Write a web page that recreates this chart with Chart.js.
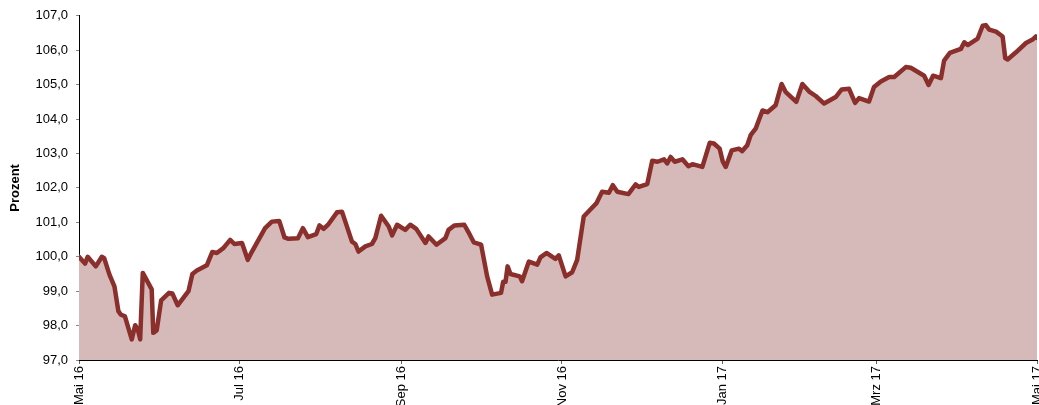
<!DOCTYPE html>
<html>
<head>
<meta charset="utf-8">
<script src="https://cdn.jsdelivr.net/npm/chart.js@4"></script>
<style>
  html, body { margin: 0; padding: 0; background: #fff; }
  #wrap { width: 1039px; height: 405px; position: relative; }
</style>
</head>
<body>
<div id="wrap"><canvas id="indexChart"></canvas></div>
<script>
// Tage seit 1. Mai 2016 (geschaetzt aus der Vorlage)
const dayOffsets = [
  0, 2.3, 3.3, 6.4, 8.7, 9.6, 11.6, 13.5, 15.0, 15.9,
  17.5, 20.1, 21.4, 22.4, 23.3, 24.3, 27.7, 28.3, 29.6, 31.3,
  34.3, 35.6, 37.6, 41.7, 43.2, 44.9, 48.7, 50.8, 52.5, 55.0,
  57.6, 59.2, 62.1, 64.3, 65.9, 70.9, 73.5, 76.3, 78.3, 79.8,
  83.4, 85.3, 87.2,
  90.4, 91.6, 93.2, 95.1, 98.3, 100.2, 104.0, 105.3, 106.5, 109.1,
  111.6, 112.9, 115.1, 118.0, 119.3, 121.2, 124.3, 126.2, 128.5, 132.0,
  133.2, 136.2, 139.6, 140.8, 143.0, 146.8, 148.9, 150.4, 153.2, 155.5,
  157.4, 160.8, 161.6, 162.5, 163.3, 164.4, 167.9, 168.8, 171.4, 174.6,
  175.8, 178.1, 181.5, 182.8,
  185.4, 187.9, 189.8, 192.3, 195.3, 197.1, 199.3, 201.9, 203.4, 205.1,
  209.3, 212.1, 213.3, 216.5, 218.4, 220.4, 222.9, 224.1, 225.4, 227.0,
  229.9, 232.2, 233.7, 237.5, 240.3, 241.9, 244.1, 245.3, 246.4, 248.7,
  251.4, 252.7, 254.6, 255.9, 257.8, 260.4, 262.3, 265.4, 267.7, 269.3,
  273.3,
  275.6, 278.2, 280.7, 283.9, 288.3, 290.6, 293.4, 295.7, 297.2, 301.0,
  302.9, 305.5, 308.7, 310.6, 315.0, 316.9, 322.0, 323.7, 325.4, 328.4,
  329.6, 331.8, 336.0, 337.3, 338.6, 342.4, 344.3, 345.5, 346.8, 349.4,
  351.9, 352.9, 353.8, 357.0, 360.8, 363.3, 364.6, 365
];

// Indexwert in Prozent
const values = [
  100.00, 99.80, 100.00, 99.72, 100.00, 99.96, 99.48, 99.14, 98.42, 98.32,
  98.27, 97.60, 98.01, 97.89, 97.60, 99.53, 99.05, 97.79, 97.86, 98.73,
  98.95, 98.93, 98.59, 99.00, 99.50, 99.60, 99.75, 100.14, 100.11, 100.25,
  100.49, 100.37, 100.40, 99.91, 100.15, 100.83, 101.02, 101.04, 100.56, 100.52,
  100.54, 100.83, 100.57,
  100.66, 100.91, 100.81, 100.95, 101.29, 101.31, 100.44, 100.37, 100.15, 100.30,
  100.37, 100.54, 101.19, 100.88, 100.62, 100.93, 100.78, 100.93, 100.81, 100.40,
  100.59, 100.35, 100.54, 100.78, 100.91, 100.93, 100.64, 100.42, 100.35, 99.43,
  98.90, 98.95, 99.27, 99.27, 99.72, 99.50, 99.43, 99.29, 99.86, 99.77,
  99.98, 100.11, 99.94, 100.04,
  99.43, 99.55, 99.91, 101.17, 101.41, 101.55, 101.89, 101.86, 102.08, 101.89,
  101.82, 102.10, 102.03, 102.11, 102.79, 102.76, 102.83, 102.71, 102.90, 102.76,
  102.83, 102.63, 102.69, 102.61, 103.31, 103.29, 103.14, 102.76, 102.61, 103.09,
  103.14, 103.07, 103.24, 103.53, 103.72, 104.25, 104.20, 104.40, 105.02, 104.78,
  104.50,
  105.02, 104.80, 104.67, 104.45, 104.64, 104.86, 104.88, 104.47, 104.61, 104.51,
  104.93, 105.09, 105.22, 105.22, 105.51, 105.49, 105.26, 104.99, 105.26, 105.19,
  105.70, 105.92, 106.04, 106.23, 106.15, 106.34, 106.71, 106.73, 106.60, 106.54,
  106.40, 105.77, 105.73, 105.94, 106.21, 106.31, 106.40, 106.36
];

// Monatsanfaenge als Achsenbeschriftung
const tickDays = [0, 61, 123, 184, 245, 304, 365];
const tickLabels = ['Mai 16', 'Jul 16', 'Sep 16', 'Nov 16', 'Jan 17', 'Mrz 17', 'Mai 17'];

const FONT = '"Liberation Sans", Arial, Helvetica, sans-serif';

const points = dayOffsets.map((d, i) => ({ x: d, y: values[i] }));

new Chart(document.getElementById('indexChart'), {
  type: 'line',
  data: {
    datasets: [{
      label: 'Index',
      data: points,
      borderColor: '#8a2f2b',
      backgroundColor: '#d6baba',
      borderWidth: 4.5,
      borderJoinStyle: 'round',
      borderCapStyle: 'round',
      pointRadius: 0,
      tension: 0,
      fill: 'start'
    }]
  },
  options: {
    responsive: true,
    maintainAspectRatio: false,
    animation: false,
    devicePixelRatio: 1,
    layout: { padding: { top: 15, right: 2, left: 0, bottom: 0 } },
    plugins: {
      legend: { display: false },
      tooltip: { enabled: false }
    },
    scales: {
      x: {
        type: 'linear',
        min: 0,
        max: 365,
        afterBuildTicks: scale => {
          scale.ticks = tickDays.map(v => ({ value: v }));
        },
        afterFit: scale => {
          scale.height = 45;
          scale.paddingLeft = 0;
          scale.paddingRight = 0;
        },
        ticks: {
          autoSkip: false,
          minRotation: 90,
          maxRotation: 90,
          padding: 2,
          color: '#000',
          font: { family: FONT, size: 13 },
          callback: value => tickLabels[tickDays.indexOf(value)]
        },
        grid: {
          display: true,
          drawOnChartArea: false,
          drawTicks: true,
          tickLength: 4,
          color: '#666'
        },
        border: { display: true, color: '#000', width: 1 }
      },
      y: {
        min: 97,
        max: 107,
        afterFit: scale => {
          scale.width = 79;
        },
        ticks: {
          stepSize: 1,
          padding: 8,
          color: '#000',
          font: { family: FONT, size: 13 },
          callback: value => value.toFixed(1).replace('.', ',')
        },
        title: {
          display: true,
          text: 'Prozent',
          color: '#000',
          font: { family: FONT, size: 13, weight: 'bold' },
          padding: { top: 8, bottom: 0 }
        },
        grid: {
          display: true,
          drawOnChartArea: false,
          drawTicks: true,
          tickLength: 3,
          color: '#888'
        },
        border: { display: true, color: '#000', width: 1 }
      }
    }
  }
});
</script>
</body>
</html>
